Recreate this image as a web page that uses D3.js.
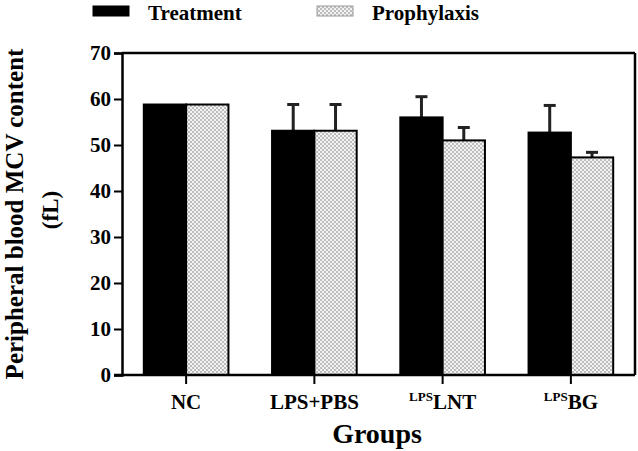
<!DOCTYPE html>
<html>
<head>
<meta charset="utf-8">
<script src="https://cdn.jsdelivr.net/npm/d3@7"></script>
<style>
  body { margin: 0; background: #fff; }
  text { font-family: "Liberation Serif", "DejaVu Serif", serif; font-weight: bold; }
</style>
</head>
<body>
<div id="chart"></div>
<script>
// data
var groups = ["NC", "LPS+PBS", "LNT", "BG"];
var groupPrefix = ["", "", "LPS", "LPS"];
var series = ["Treatment", "Prophylaxis"];
var treatment = [58.8, 53.1, 56.0, 52.7];
var treatmentErr = [0, 5.7, 4.5, 5.9];
var prophylaxis = [58.8, 53.1, 51.0, 47.3];
var prophylaxisErr = [0, 5.7, 2.8, 1.1];
var yTicks = [0, 10, 20, 30, 40, 50, 60, 70];

var W = 638, H = 451;
var margin = {top: 53, right: 3, bottom: 76, left: 122},
    width = W - margin.left - margin.right,
    height = H - margin.top - margin.bottom;

var svg = d3.select("#chart").append("svg")
    .attr("width", W)
    .attr("height", H);

// checkered fill for the prophylaxis bars
var pat = svg.append("defs").append("pattern")
    .attr("id", "check")
    .attr("width", 4).attr("height", 4)
    .attr("patternUnits", "userSpaceOnUse");
pat.append("rect").attr("width", 4).attr("height", 4).attr("fill", "#f2f2f2");
pat.append("rect").attr("width", 2).attr("height", 2).attr("fill", "#bdbdbd");
pat.append("rect").attr("x", 2).attr("y", 2).attr("width", 2).attr("height", 2).attr("fill", "#bdbdbd");

var g = svg.append("g")
    .attr("transform", "translate(" + margin.left + "," + margin.top + ")");

var x = d3.scaleBand()
    .domain(groups)
    .range([0, width])
    .paddingInner(0.34)
    .paddingOuter(0.17);

var x1 = d3.scaleBand()
    .domain(series)
    .range([0, x.bandwidth()]);

var y = d3.scaleLinear()
    .domain([0, 70])
    .range([height, 0]);

var rows = groups.map(function(d, i) {
  return [
    {group: d, s: "Treatment", v: treatment[i], e: treatmentErr[i]},
    {group: d, s: "Prophylaxis", v: prophylaxis[i], e: prophylaxisErr[i]}
  ];
});
var flat = [].concat.apply([], rows);

// error bars (upper only)
var eb = g.selectAll(".err")
    .data(flat.filter(function(d) { return d.e > 0; }))
    .enter().append("g");
eb.append("line")
    .attr("x1", function(d) { return x(d.group) + x1(d.s) + x1.bandwidth() / 2; })
    .attr("x2", function(d) { return x(d.group) + x1(d.s) + x1.bandwidth() / 2; })
    .attr("y1", function(d) { return y(d.v); })
    .attr("y2", function(d) { return y(d.v + d.e); })
    .attr("stroke", "#222").attr("stroke-width", 3);
eb.append("line")
    .attr("x1", function(d) { return x(d.group) + x1(d.s) + x1.bandwidth() / 2 - 6; })
    .attr("x2", function(d) { return x(d.group) + x1(d.s) + x1.bandwidth() / 2 + 6; })
    .attr("y1", function(d) { return y(d.v + d.e); })
    .attr("y2", function(d) { return y(d.v + d.e); })
    .attr("stroke", "#222").attr("stroke-width", 3);

// bars
g.selectAll(".bar")
    .data(flat)
    .enter().append("rect")
    .attr("x", function(d) { return x(d.group) + x1(d.s); })
    .attr("y", function(d) { return y(d.v); })
    .attr("width", x1.bandwidth())
    .attr("height", function(d) { return height - y(d.v); })
    .attr("fill", function(d) { return d.s == "Treatment" ? "#000" : "url(#check)"; })
    .attr("stroke", "#000")
    .attr("stroke-width", 2);

// frame top and right
g.append("line").attr("x1", 0).attr("x2", width).attr("y1", 0).attr("y2", 0)
    .attr("stroke", "#000").attr("stroke-width", 2.5);
g.append("line").attr("x1", width).attr("x2", width).attr("y1", 0).attr("y2", height)
    .attr("stroke", "#000").attr("stroke-width", 2.5);

// y axis
var yAxis = g.append("g")
    .call(d3.axisLeft(y).tickValues(yTicks).tickSize(8).tickPadding(3));
yAxis.select(".domain").attr("stroke-width", 2.5);
yAxis.selectAll(".tick line").attr("stroke-width", 2);
yAxis.selectAll("text").style("font-size", "21px").style("font-family", "Liberation Serif").style("font-weight", "bold");

// x axis
var xAxis = g.append("g")
    .attr("transform", "translate(0," + height + ")")
    .call(d3.axisBottom(x).tickSize(9).tickFormat(""));
xAxis.select(".domain").attr("stroke-width", 2.5).attr("d", "M-8,0H" + width);
xAxis.selectAll(".tick line").attr("stroke-width", 2);

var xl = g.selectAll(".xlab")
    .data(groups)
    .enter().append("text")
    .attr("x", function(d) { return x(d) + x.bandwidth() / 2; })
    .attr("y", height + 34)
    .attr("text-anchor", "middle")
    .style("font-size", "21px");
xl.append("tspan")
    .style("font-size", "13px")
    .attr("dy", "-8")
    .text(function(d, i) { return groupPrefix[i]; });
xl.append("tspan")
    .attr("dy", function(d, i) { return groupPrefix[i] ? "8" : "0"; })
    .text(function(d) { return d; });

// axis titles
svg.append("text")
    .attr("x", 377)
    .attr("y", 443)
    .attr("text-anchor", "middle")
    .style("font-size", "28px")
    .text("Groups");

svg.append("text")
    .attr("transform", "translate(23," + (margin.top + height / 2) + ") rotate(-90)")
    .attr("text-anchor", "middle")
    .style("font-size", "25px")
    .text("Peripheral blood MCV content");
svg.append("text")
    .attr("transform", "translate(58," + (margin.top + height / 2 - 4) + ") rotate(-90)")
    .attr("text-anchor", "middle")
    .style("font-size", "23px")
    .text("(fL)");

// legend
var legend = svg.append("g");
var legX = [93, 317];
series.forEach(function(s, i) {
  legend.append("rect")
      .attr("x", legX[i]).attr("y", 6)
      .attr("width", 36).attr("height", 10)
      .attr("fill", i == 0 ? "#000" : "url(#check)")
      .attr("stroke", i == 0 ? "#000" : "#999")
      .attr("stroke-width", 1);
  legend.append("text")
      .attr("x", legX[i] + 55).attr("y", 20)
      .style("font-size", "21px")
      .text(s);
});
</script>
</body>
</html>
